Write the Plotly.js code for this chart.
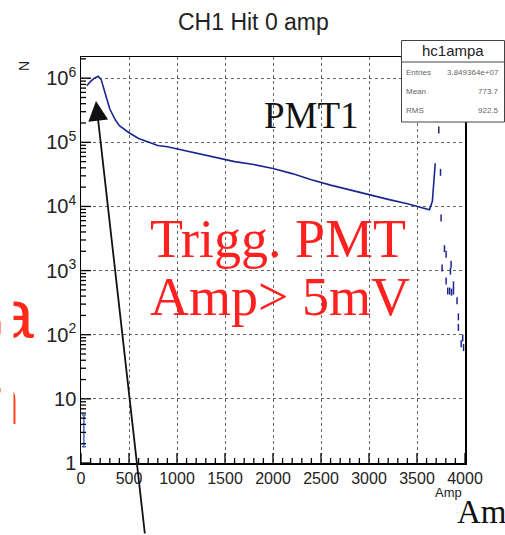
<!DOCTYPE html>
<html>
<head>
<meta charset="utf-8">
<script src="https://cdn.plot.ly/plotly-3.0.1.min.js"></script>
<style>html,body{margin:0;padding:0;background:#fff;}#chart{width:505px;height:535px;}</style>
</head>
<body>
<div id="chart"></div>
<script>
// ---- data ----
const mainAmp = [60,100,140,180,210,240,270,300,330,360,400,450,500,600,700,800,900,1000,1200,1400,1600,1800,2000,2200,2400,2600,2800,3000,3200,3400,3500,3600,3630,3660,3675,3690];
const mainN   = [7.6e5,8.9e5,1.0e6,1.07e6,9.5e5,6.9e5,4.7e5,3.3e5,2.7e5,2.2e5,1.82e5,1.58e5,1.41e5,1.15e5,1.0e5,8.9e4,8.5e4,7.9e4,6.8e4,5.9e4,5.0e4,4.5e4,3.9e4,3.25e4,2.6e4,2.15e4,1.8e4,1.5e4,1.29e4,1.1e4,1.0e4,9.1e3,8.9e3,1.2e4,2.2e4,4.7e4];
const tailAmp = [3727,3745,3751,3761,3786,3803,3803,3820,3840,3848,3855,3860,3880,3880,3917,3931,3931,3960,3976,3985];
const tailN   = [1.55e5,3.4e4,6.6e3,1.1e3,2.2e3,1.8e3,690,480,480,980,1260,460,600,480,340,190,130,72,89,63];
const lowAmp = [30];
const lowN   = [3.7];
const lowErr = [1.9];
const statsLabels = ["Entries","Mean","RMS"];
const statsValues = ["3.849364e+07","773.7","922.5"];
const histName = "hc1ampa";
const chartTitle = "CH1 Hit 0 amp";

// ---- geometry helpers (pixel -> paper) ----
const L = 81, R = 465, T = 57, B = 463, W = 505, H = 535;
const PW = R - L, PH = B - T;
const px = X => (X - L) / PW;
const py = Y => (B - Y) / PH;
const X_RANGE = [0, 4000];
const Y_LOG_RANGE = [0, 6.33];
const yPaper = v => (Math.log10(v) - Y_LOG_RANGE[0]) / (Y_LOG_RANGE[1] - Y_LOG_RANGE[0]);

const navy = '#1b2790';

const traces = [
  {x: mainAmp, y: mainN, type: 'scatter', mode: 'lines',
   line: {color: navy, width: 1.6}},
  {x: tailAmp, y: tailN, type: 'scatter', mode: 'markers',
   marker: {symbol: 'line-ns-open', size: 5, color: navy, line: {color: navy, width: 1.5}}},
  {x: lowAmp, y: lowN, type: 'scatter', mode: 'markers',
   marker: {size: 1, color: '#4466cc'},
   error_y: {type: 'data', array: lowErr, color: '#4466cc', thickness: 1.5, width: 2}}
];

const serif = 'Liberation Serif, Times New Roman, serif';
const sans = 'Liberation Sans, Arial, sans-serif';

function txt(text, X, Y, font, extra) {
  return Object.assign({text: text, xref: 'paper', yref: 'paper', x: px(X), y: py(Y),
    xanchor: 'center', yanchor: 'middle', showarrow: false, font: font}, extra || {});
}

const annotations = [
  txt(chartTitle, 253, 22, {family: sans, size: 23, color: '#222'}),
  txt('N', 24, 66, {family: sans, size: 14, color: '#222'}, {textangle: -90}),
  txt('Amp', 448, 492, {family: sans, size: 13, color: '#222'}),
  txt('PMT1', 311, 115, {family: serif, size: 37, color: '#111'}),
  txt('Trigg. PMT', 278, 239, {family: serif, size: 54, color: '#ff2020'}),
  txt('Amp&gt; 5mV', 280, 297, {family: serif, size: 54, color: '#ff2020'}),
  txt('a', 36, 314, {family: sans, size: 68, color: '#ff2a1a'}, {xanchor: 'right'}),
  txt('n', 22, 400, {family: sans, size: 68, color: '#ff3a1a'}, {xanchor: 'right'}),
  // white strip masking the cut slide edge
  txt(' ', 0, 360, {family: sans, size: 10, color: '#fff'}, {xanchor: 'left', width: 12, height: 160, bgcolor: '#fff', borderpad: 0}),
  txt('Amp', 455, 512, {family: serif, size: 33, color: '#111'}, {xanchor: 'left'}),
  // arrow
  {text: '', xref: 'paper', yref: 'paper', x: px(96), y: py(101), showarrow: true,
   ax: 49, ay: 434, arrowhead: 2, arrowsize: 2.2, arrowwidth: 1.8, arrowcolor: '#111'},
  txt(histName, 453, 51, {family: sans, size: 15, color: '#222'})
];
statsLabels.forEach((lab, i) => {
  const Y = 73 + i * 18.5;
  annotations.push(txt(lab, 404, Y, {family: sans, size: 8, color: '#666'}, {xanchor: 'left'}));
  annotations.push(txt(statsValues[i], 501, Y, {family: sans, size: 8, color: '#666'}, {xanchor: 'right'}));
});

const shapes = [];
// axis tick marks (decoration), placed from axis values
const tickLine = {color: '#000', width: 1.3};
for (let v = X_RANGE[0]; v <= X_RANGE[1]; v += 100) {
  const len = (v % 500 === 0) ? 10 : 5;
  shapes.push({type: 'line', xref: 'x', yref: 'paper', x0: v, x1: v, y0: 0, y1: len / PH, line: tickLine, layer: 'above'});
}
for (let k = 0; k <= 6; k++) {
  for (let d = 1; d <= 9; d++) {
    const v = d * Math.pow(10, k);
    const yp = yPaper(v);
    if (yp > 1) continue;
    const len = (d === 1) ? 10 : 5;
    shapes.push({type: 'line', xref: 'paper', yref: 'paper', x0: 0, x1: len / PW, y0: yp, y1: yp, line: tickLine, layer: 'above'});
  }
}
// stats box
shapes.push({type: 'rect', xref: 'paper', yref: 'paper', x0: px(401.5), x1: px(504.5), y0: py(122), y1: py(40.5),
   fillcolor: '#fff', line: {color: '#444', width: 1}, layer: 'above'});
shapes.push({type: 'line', xref: 'paper', yref: 'paper', x0: px(401.5), x1: px(504.5), y0: py(62), y1: py(62),
   line: {color: '#444', width: 1}, layer: 'above'});

const layout = {
  width: W, height: H,
  margin: {l: L, r: W - R, t: T, b: H - B, pad: 0},
  paper_bgcolor: '#fff', plot_bgcolor: '#fff',
  showlegend: false,
  xaxis: {
    range: X_RANGE, tick0: 0, dtick: 500, ticks: '',
    showgrid: true, gridcolor: '#666', griddash: 'dot', gridwidth: 1,
    showline: true, linecolor: '#000', linewidth: 1.5, mirror: true, zeroline: false,
    tickfont: {family: sans, size: 16, color: '#222'}
  },
  yaxis: {
    type: 'log', range: Y_LOG_RANGE, dtick: 1, exponentformat: 'power', ticks: '',
    showgrid: true, gridcolor: '#666', griddash: 'dot', gridwidth: 1,
    showline: true, linecolor: '#000', linewidth: 1.5, mirror: true, zeroline: false,
    tickfont: {family: sans, size: 16, color: '#222'}
  },
  annotations: annotations,
  shapes: shapes
};

Plotly.newPlot('chart', traces, layout, {staticPlot: true, displayModeBar: false});
</script>
</body>
</html>
